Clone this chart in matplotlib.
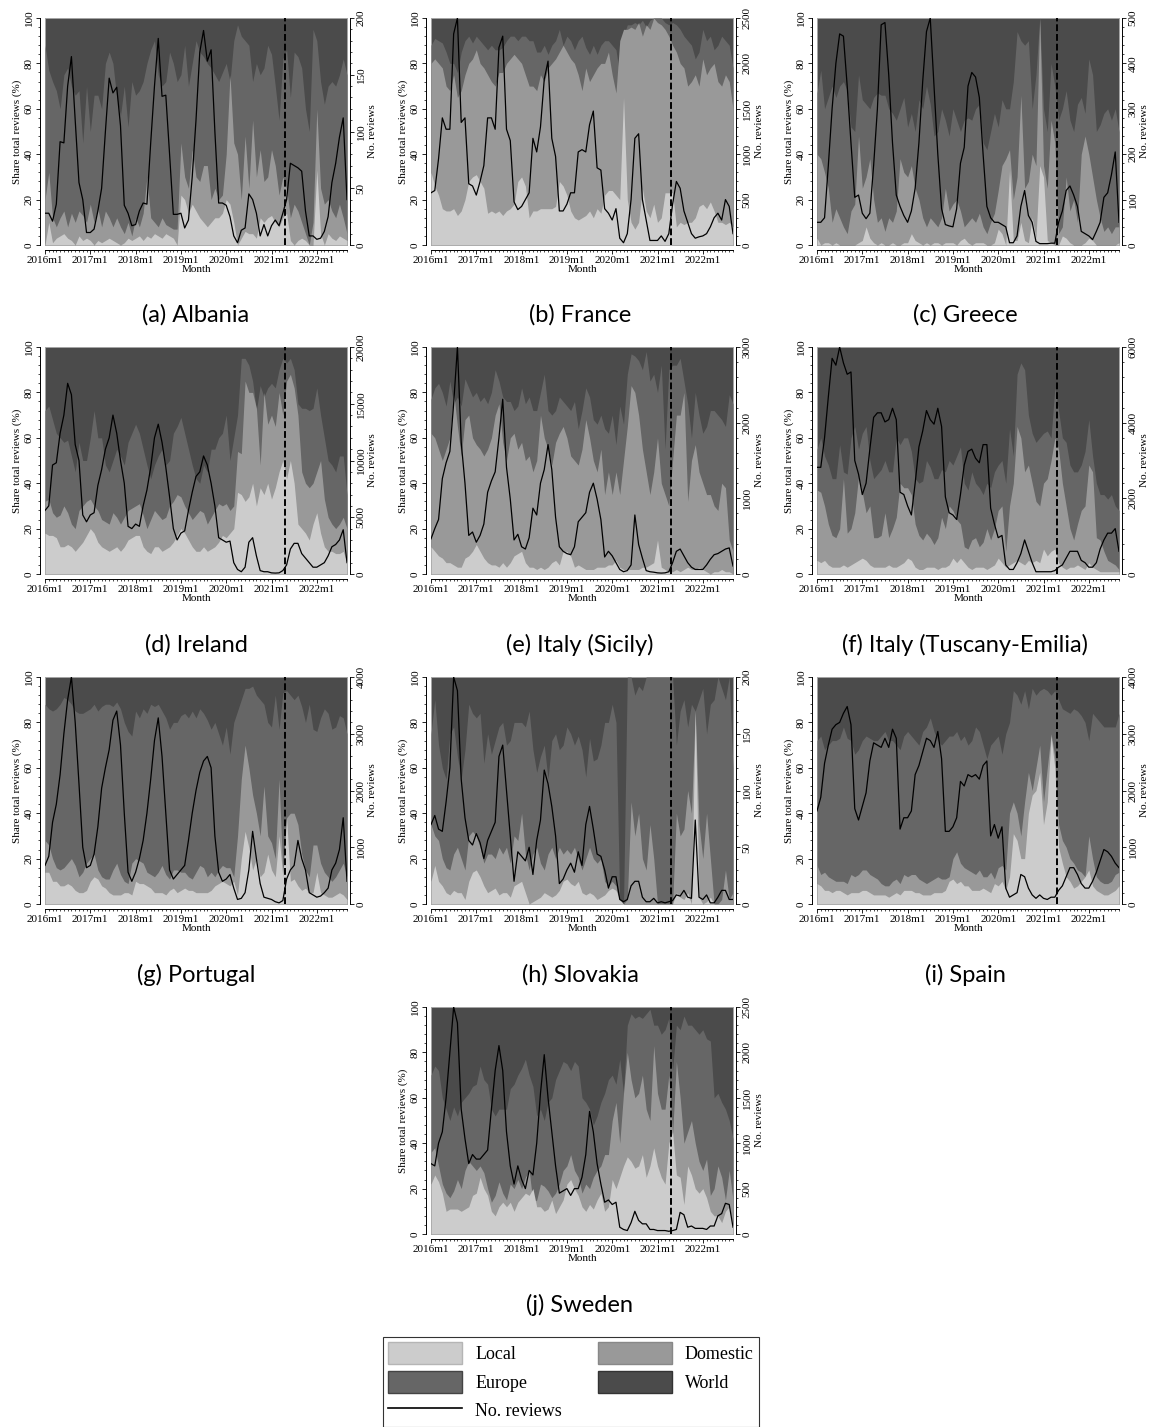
import numpy as np
import matplotlib
matplotlib.use("Agg")
import matplotlib.pyplot as plt
from matplotlib.patches import Patch
from matplotlib.lines import Line2D
from matplotlib.ticker import MultipleLocator

# monthly index, 2016m1 .. 2022m9
months = np.arange(81)
year_ticks = [0, 12, 24, 36, 48, 60, 72]
year_labels = ["2016m1", "2017m1", "2018m1", "2019m1", "2020m1", "2021m1", "2022m1"]
cutoff = 63.5

# cumulative shares (%): local, local+domestic, local+domestic+europe (world fills to 100)
alb_local = [0,10,1,3,4,5,3,2,0,4,2,3, 2,0,2,1,2,3,2,1,0,1,3,2, 3,4,2,4,3,5,4,3,5,4,3,0,
             22,20,14,18,15,12,10,8,10,12,12,14, 20,18,10,0,3,6,5,5,3,12,10,12,
             13,10,8,12,14,2,0,2,3,2,0,0, 33,5,0,5,3,2,4,3,2]
alb_dom = [20,32,12,8,12,15,8,14,10,15,13,10, 18,10,16,8,15,12,8,12,8,5,10,4, 12,8,14,30,12,10,8,12,9,8,7,7,
           45,30,25,42,30,28,35,35,20,25,20,22, 40,75,45,40,20,48,25,55,30,42,28,30,
           42,35,22,30,25,12,18,15,10,5,0,10, 60,25,18,20,15,12,18,12,5]
alb_eur = [88,77,72,68,60,75,78,70,66,68,45,70, 50,66,66,60,80,85,80,65,57,70,52,72, 66,68,72,80,86,90,75,70,72,85,80,72,
           75,88,70,80,90,85,83,80,78,75,72,76, 80,72,90,97,92,90,88,72,80,75,78,88,
           84,70,55,82,86,65,85,83,78,60,50,95, 90,72,62,70,72,70,75,82,75]
alb_reviews = [28,28,21,36,91,90,140,166,110,55,40,11, 11,14,30,50,100,147,134,139,105,35,28,17,
               18,30,37,36,90,140,182,131,132,80,27,27, 28,15,22,60,110,170,189,162,172,100,37,37,
               35,25,8,2,13,15,45,40,28,8,18,8, 17,22,17,28,40,72,70,68,65,30,8,8,
               5,6,12,25,55,72,95,112,40]

fra_local = [32,26,22,16,15,15,16,13,15,20,28,30, 31,28,25,14,15,14,15,13,15,16,18,28, 30,26,12,15,15,16,16,16,16,17,28,26,
             22,15,12,11,12,13,15,12,16,14,22,24, 24,22,20,65,20,10,7,10,25,15,12,18,
             10,12,23,23,23,8,10,9,10,10,12,17, 18,16,19,15,10,10,9,10,8]
fra_dom = [80,82,80,78,70,68,75,65,68,75,80,82, 86,80,78,75,72,70,76,76,80,82,84,82, 80,75,70,70,68,75,72,78,80,82,85,88,
           85,82,80,75,68,78,72,75,78,80,80,85, 75,67,90,95,95,96,95,98,92,97,95,100,
           98,97,95,92,88,85,80,78,70,72,75,70, 82,75,78,80,72,70,75,72,60]
fra_eur = [88,91,90,89,85,80,80,76,85,90,92,89, 92,90,88,86,88,86,86,87,90,92,92,90, 92,92,90,90,85,85,88,84,88,90,95,88,
           92,90,86,90,92,87,84,88,84,88,90,90, 88,86,75,92,97,97,98,97,99,96,99,100,
           100,100,98,97,98,97,95,92,90,88,82,85, 95,90,92,86,88,92,90,88,78]
fra_reviews = [575,600,950,1400,1275,1275,2325,2500,1350,1400,675,650,
               550,700,875,1400,1400,1275,2175,2300,1275,1150,475,390,
               425,500,575,1175,1025,1300,1825,2025,1175,975,375,375,
               450,575,575,1025,1050,1025,1325,1475,850,825,400,350,
               275,400,75,25,125,500,1175,1225,500,275,50,50,
               50,100,40,125,450,700,625,375,250,125,75,90,
               100,125,200,300,350,275,500,425,125]

gre_local = [3,0,1,1,0,1,0,0,0,0,0,1, 2,8,3,1,0,1,0,0,1,0,0,1, 1,5,2,1,0,1,0,1,1,0,1,1,
             1,0,2,3,1,0,1,1,1,0,0,1, 7,5,0,33,2,2,10,2,1,12,3,35,
             30,2,1,0,0,4,3,1,0,0,0,1, 3,2,0,0,0,0,0,0,1]
gre_dom = [40,38,32,25,10,16,12,8,5,15,18,48, 25,30,38,20,10,12,6,12,10,15,38,32, 30,35,25,20,12,8,12,10,8,12,25,15,
           18,20,15,8,10,12,10,14,8,5,10,14, 24,35,38,42,20,30,66,25,28,40,35,100,
           35,25,55,45,5,8,30,15,20,10,40,48, 40,30,20,12,6,8,5,8,8]
gre_eur = [67,77,60,65,70,65,70,72,68,52,50,75, 64,62,60,65,67,66,66,60,58,55,60,65, 52,58,50,64,60,70,62,48,50,60,55,48,
           60,55,50,55,56,55,60,62,45,42,50,58, 52,64,60,60,72,94,90,88,90,60,75,100,
           60,50,80,70,55,60,68,55,50,62,65,58, 82,75,50,53,58,60,55,60,50]
gre_reviews = [50,50,60,175,300,400,465,460,350,225,105,110,
               70,58,70,175,300,485,490,375,225,110,85,65,
               50,75,125,225,360,470,500,350,200,80,45,42,
               40,80,180,215,350,380,370,325,200,85,60,50,
               50,45,40,5,5,20,85,120,65,50,8,3,
               3,3,4,4,50,75,120,130,110,85,30,25,
               20,12,30,50,105,115,155,205,50]

ire_local = [18,17,17,16,12,12,13,12,10,12,14,17, 20,18,14,12,11,10,11,12,10,12,15,16, 17,17,12,10,9,12,12,10,11,12,14,17,
             20,18,15,12,10,10,12,10,11,12,14,17, 16,18,20,36,35,32,34,40,30,38,35,40,
             33,38,45,50,42,50,40,22,20,18,15,22, 27,18,12,10,10,9,9,10,5]
ire_dom = [32,33,27,25,26,30,27,22,20,28,30,32, 33,30,28,24,23,22,27,25,22,25,28,29, 30,31,26,20,24,28,26,24,25,30,32,35,
           34,30,27,24,26,28,27,22,25,28,31,30, 31,28,30,54,53,85,80,80,73,48,80,66,
           70,65,80,70,85,88,82,70,45,40,38,40, 45,50,33,25,22,20,22,25,20]
ire_eur = [72,74,68,62,60,58,59,52,45,58,50,50, 60,72,60,60,48,45,50,55,52,48,58,62, 66,62,55,48,42,48,52,55,48,50,62,65,
           69,62,55,48,42,40,48,45,55,55,60,62, 70,50,60,70,95,95,92,85,72,83,78,82,
           84,82,90,95,93,95,90,75,73,73,72,73, 82,70,60,50,48,45,52,52,35]
ire_reviews = [5600,6000,9600,9800,12400,14000,16800,15800,11400,10000,5200,4600,
               5200,5400,7800,9200,11000,12000,14000,12400,10000,8000,4200,4000,
               4400,4200,6000,7400,9400,12000,13200,11600,9400,6800,4000,3000,
               3600,3800,5600,7200,8600,9000,10400,9600,8000,6000,3200,3000,
               2800,2900,1000,400,200,600,2800,3200,1600,300,200,200,
               100,80,100,300,800,2200,2700,2700,1800,1400,1000,600,
               600,800,1000,1600,2400,2600,3000,3900,1000]

sic_local = [12,10,8,7,5,5,4,3,3,7,8,10, 13,10,7,5,4,4,3,5,3,5,8,9, 10,5,3,3,2,3,2,3,5,6,4,10,
             10,8,3,4,3,2,2,2,3,3,3,4, 4,6,3,2,2,2,2,2,3,3,4,5,
             15,3,2,1,1,2,1,2,3,2,2,3, 2,1,0,1,1,2,1,1,0]
sic_dom = [62,60,55,50,55,60,80,65,52,68,70,60, 57,55,52,55,60,70,75,58,50,60,62,55, 58,50,52,45,50,70,60,55,48,58,62,65,
           60,52,50,48,55,68,60,50,45,55,35,45, 35,45,35,50,65,83,80,70,55,45,35,45,
           60,40,35,30,50,70,70,80,32,50,57,45, 40,35,35,30,28,40,38,15,10]
sic_eur = [77,82,84,80,74,85,75,78,74,86,82,78, 80,76,78,75,80,90,85,78,76,76,72,74, 82,75,78,72,72,80,88,72,70,72,78,76,
           74,72,76,64,72,82,78,68,66,70,64,62, 70,57,74,66,88,97,96,94,90,98,85,88,
           80,92,55,90,92,92,95,85,75,60,80,70, 62,65,72,72,70,68,65,79,75]
sic_reviews = [465,600,720,1260,1470,1620,2250,3000,1740,1200,510,555,
               420,510,660,1080,1230,1350,1800,2310,1410,990,450,525,
               360,330,480,870,780,1200,1380,1710,1380,750,360,300,
               270,255,360,690,750,810,1080,1200,990,720,225,300,
               240,150,60,30,45,120,780,390,210,45,30,24,
               15,12,15,30,150,300,330,240,150,90,60,60,
               60,120,195,255,270,300,330,345,105]

tus_local = [6,5,6,4,3,3,3,4,3,4,5,6, 7,6,4,3,3,3,3,4,3,3,4,5, 7,6,3,2,2,3,3,3,2,3,3,4,
             7,5,7,5,3,2,3,3,3,2,3,4, 7,5,3,4,5,6,5,4,6,5,6,5,
             11,8,10,11,5,3,2,3,3,4,3,2, 5,3,2,1,1,1,1,1,1]
tus_dom = [37,36,30,22,17,16,20,42,18,20,27,43, 36,27,30,16,16,17,27,16,20,25,40,38, 38,35,22,17,15,18,16,13,16,25,20,30,
           28,24,22,12,11,15,16,12,14,20,15,20, 28,30,10,30,40,65,60,45,48,40,32,30,
           40,42,50,60,55,40,30,20,15,22,28,30, 48,45,16,15,10,6,5,4,2]
tus_eur = [55,60,52,48,42,42,57,45,44,60,65,55, 62,65,50,42,44,46,50,45,45,60,57,60, 60,54,42,40,41,50,47,42,42,46,45,50,
           48,52,56,40,37,45,40,38,35,40,38,45, 48,50,40,64,52,88,93,90,70,62,58,60,
           62,63,60,82,72,60,58,48,45,45,48,54, 68,52,40,35,35,33,35,30,28]
tus_reviews = [2820,2820,3600,4680,5700,5520,6000,5580,5280,5340,3000,2640,
               2100,2400,3300,4140,4260,4260,4020,4080,4380,4080,2160,2100,
               1800,1560,2400,3360,3780,4320,4080,3960,4380,3900,2040,1620,
               1560,1440,2100,2880,3240,3300,3060,2940,3420,3420,1740,1320,
               960,1020,240,120,120,300,540,900,600,300,60,60,
               60,60,60,90,180,240,420,600,600,600,360,300,
               180,180,300,660,900,1080,1080,1200,600]

por_local = [14,14,10,10,8,8,9,8,6,5,5,6, 10,12,11,8,7,5,4,4,4,5,5,4, 10,9,9,8,7,5,5,5,4,6,7,5,
             6,7,6,6,5,5,5,5,6,8,9,10, 9,8,10,4,20,32,25,15,20,12,14,22,
             15,12,30,12,38,10,11,8,6,7,5,5, 14,5,4,3,3,4,5,4,2]
por_dom = [28,26,20,16,15,16,18,20,17,12,14,18, 20,22,15,12,11,11,15,18,13,10,9,18, 20,19,18,14,13,12,14,17,13,11,15,15,
           14,14,12,11,14,17,16,12,14,12,15,17, 16,16,12,30,55,70,60,48,40,30,52,30,
           27,20,55,14,38,40,40,35,22,15,12,26, 26,18,14,12,10,12,15,18,12]
por_eur = [88,86,85,86,88,91,90,88,85,84,84,85, 86,88,85,87,88,88,87,89,86,80,76,74, 85,82,86,84,88,87,88,85,82,77,80,80,
           83,84,82,85,82,86,84,81,77,80,75,70, 78,66,80,85,90,95,95,96,92,90,88,80,
           78,92,77,93,94,92,90,92,87,80,88,77, 76,82,86,84,77,78,83,82,75]
por_reviews = [680,840,1440,1760,2280,3000,3600,4000,3200,2120,1000,640,
               680,880,1360,2040,2400,2720,3240,3400,2800,1600,560,400,
               560,800,1120,1600,2200,2880,3280,2600,1600,600,440,520,
               600,680,1120,1600,2000,2320,2520,2600,2400,1200,560,400,
               440,520,280,80,100,200,600,1280,800,360,120,100,
               80,40,20,60,440,600,680,1120,800,600,200,160,
               120,140,200,280,600,720,960,1520,400]

svk_local = [10,17,10,8,5,4,6,5,5,2,10,14, 15,12,8,5,6,7,4,5,5,3,8,9, 10,5,0,1,2,3,5,4,3,4,6,10,
             11,9,8,10,5,4,5,4,2,3,4,6, 7,6,2,0,0,0,0,0,0,0,0,0,
             0,0,0,0,0,5,3,2,5,0,85,3, 0,1,3,0,0,0,0,0,0]
svk_dom = [35,30,28,20,16,15,22,25,20,15,30,32, 30,25,18,22,22,20,25,22,25,18,30,28, 40,22,15,22,25,18,15,22,25,20,25,22,
           24,22,25,20,15,20,25,20,18,20,10,8, 10,8,0,0,2,45,30,40,20,15,35,20,
           0,0,0,0,0,40,30,33,50,40,85,35, 20,40,20,0,0,2,15,2,5]
svk_eur = [75,90,70,60,55,75,78,65,55,68,88,84, 82,84,62,75,66,72,78,80,70,72,80,80, 80,78,85,68,58,65,70,55,72,75,68,70,
           78,75,70,74,68,56,73,63,64,70,80,80, 88,80,0,0,100,100,92,96,94,100,100,100,
           100,100,100,100,100,70,85,90,78,88,85,90, 95,75,88,90,100,95,90,100,60]
svk_reviews = [70,78,66,64,90,120,200,188,110,76,56,52,
               62,54,40,56,64,72,130,140,100,60,20,46,
               42,38,50,26,56,74,118,106,86,60,18,22,
               30,36,28,46,34,70,86,66,44,42,30,14,
               24,24,4,2,4,16,20,20,6,2,2,5,
               1,2,1,2,3,8,7,12,6,5,74,6,
               4,8,1,1,6,12,12,4,4]

spa_local = [9,8,6,6,5,6,6,5,4,5,5,5, 6,6,5,4,4,4,4,3,4,5,4,6, 6,6,5,5,4,4,4,5,5,5,6,10,
             11,9,10,8,8,6,6,6,7,6,5,9, 8,10,6,12,31,28,20,20,40,48,50,58,
             35,45,74,60,25,18,12,10,7,8,10,12, 15,8,6,5,4,4,5,6,8]
spa_dom = [17,13,14,12,11,10,10,10,9,13,12,13, 15,15,13,12,11,9,8,8,10,11,9,13, 12,13,13,11,10,9,10,11,12,11,11,12,
           20,23,18,16,15,14,13,15,12,12,14,11, 16,17,15,40,45,40,30,45,58,50,60,70,
           45,60,75,65,35,28,25,20,18,15,14,12, 30,20,12,10,9,9,10,13,14]
spa_eur = [72,74,68,70,72,72,73,78,73,72,66,68, 72,74,73,72,72,74,76,72,72,70,68,74, 76,74,72,70,76,78,82,76,72,70,72,74,
           74,76,72,74,70,72,78,76,70,64,70,72, 74,66,75,80,94,92,88,94,86,95,92,94,
           95,94,92,94,90,86,85,84,86,85,83,80, 72,84,82,80,78,78,78,78,84]
spa_reviews = [1640,1880,2480,2800,3080,3160,3200,3360,3480,3160,1680,1480,
               1720,1960,2520,2840,2800,2760,2920,2760,3080,2920,1320,1520,
               1520,1640,2280,2440,2680,2920,2880,2760,3040,2560,1280,1280,
               1360,1520,2160,2080,2280,2240,2280,2200,2440,2520,1200,1400,
               1160,1360,280,120,160,200,520,480,280,160,100,160,
               100,80,120,120,240,320,480,640,640,520,360,280,
               280,400,560,760,960,920,840,720,640]

swe_local = [22,26,23,18,10,11,11,11,10,11,12,17, 18,25,20,17,10,8,12,14,12,14,10,14, 16,18,17,20,12,12,10,11,15,9,12,15,
             22,24,20,17,12,10,13,11,15,18,10,12, 24,20,25,30,34,32,29,30,35,25,30,38,
             30,25,22,40,45,26,25,13,30,26,20,18, 20,16,10,8,8,5,10,12,3]
swe_dom = [36,38,30,22,18,16,19,24,20,28,32,30, 28,30,27,20,14,17,23,18,15,22,20,24, 20,25,28,14,15,22,21,19,16,18,22,28,
           30,35,28,25,18,22,20,25,28,30,35,35, 50,58,40,62,80,68,60,62,70,55,50,83,
           62,55,55,70,44,76,60,40,45,50,40,32, 28,33,17,20,30,25,15,28,15]
swe_eur = [70,74,72,60,55,50,56,52,58,60,62,65, 66,74,68,66,55,52,55,55,55,64,66,70, 73,77,70,65,52,55,50,58,60,68,72,76,
           75,72,76,74,60,58,55,48,52,58,62,68, 70,66,77,62,92,97,95,96,95,97,99,92,
           92,88,90,95,72,92,90,96,92,92,90,88, 90,86,85,60,62,58,55,50,42]
swe_reviews = [775,750,1000,1125,1500,2000,2500,2325,1375,1050,775,875,
               825,825,875,925,1375,1800,2075,1800,1125,750,550,750,
               600,500,700,650,1000,1550,1975,1500,1125,750,450,475,
               500,425,500,500,625,875,1350,1125,775,550,350,375,
               325,350,75,50,38,125,250,150,112,112,50,50,
               38,38,38,30,38,50,238,212,75,88,62,62,
               62,50,88,88,200,225,338,325,75]

captions = ["(a) Albania", "(b) France", "(c) Greece", "(d) Ireland", "(e) Italy (Sicily)",
            "(f) Italy (Tuscany-Emilia)", "(g) Portugal", "(h) Slovakia", "(i) Spain", "(j) Sweden"]
review_max = [200, 2500, 500, 20000, 3000, 6000, 4000, 200, 4000, 2500]
review_step = [50, 500, 100, 5000, 1000, 2000, 1000, 50, 1000, 500]

panels = [
    (alb_local, alb_dom, alb_eur, alb_reviews),
    (fra_local, fra_dom, fra_eur, fra_reviews),
    (gre_local, gre_dom, gre_eur, gre_reviews),
    (ire_local, ire_dom, ire_eur, ire_reviews),
    (sic_local, sic_dom, sic_eur, sic_reviews),
    (tus_local, tus_dom, tus_eur, tus_reviews),
    (por_local, por_dom, por_eur, por_reviews),
    (svk_local, svk_dom, svk_eur, svk_reviews),
    (spa_local, spa_dom, spa_eur, spa_reviews),
    (swe_local, swe_dom, swe_eur, swe_reviews),
]

c_local = "#cccccc"
c_dom = "#999999"
c_eur = "#666666"
c_world = "#4b4b4b"
serif = "Liberation Serif"
fs = 8

W, H = 1151, 1427
fig = plt.figure(figsize=(W / 100, H / 100), dpi=100)

col_x = [45, 431, 817]
row_y = [18, 347, 677, 1007]
cap_x = [196, 580, 965]
cap_y = [315, 645, 975, 1305]
pw, ph = 302, 227

for k, (loc, dom, eur, rev) in enumerate(panels):
    r, c = divmod(k, 3)
    if k == 9:
        c = 1
    x0, y0 = col_x[c], row_y[r]
    ax = fig.add_axes([x0 / W, 1 - (y0 + ph) / H, pw / W, ph / H])

    ax.fill_between(months, 0, 100, color=c_world, edgecolor="#a5a5a5", lw=0.7)
    ax.fill_between(months, 0, eur, color=c_eur, lw=0)
    ax.fill_between(months, 0, dom, color=c_dom, lw=0)
    ax.fill_between(months, 0, loc, color=c_local, lw=0)
    ax.set_xlim(0, 80)
    ax.set_ylim(0, 100)

    for s in ["top", "right"]:
        ax.spines[s].set_visible(False)
    ax.spines["left"].set_position(("outward", 3.5))
    ax.spines["bottom"].set_position(("outward", 3.5))
    for s in ["left", "bottom"]:
        ax.spines[s].set_linewidth(0.7)

    ax.set_xticks(year_ticks)
    ax.set_xticklabels(year_labels, fontsize=fs, family=serif)
    ax.xaxis.set_minor_locator(MultipleLocator(1))
    ax.set_yticks([0, 20, 40, 60, 80, 100])
    ax.set_yticklabels(["0", "20", "40", "60", "80", "100"], rotation=90, va="center",
                       fontsize=fs, family=serif)
    ax.yaxis.set_minor_locator(MultipleLocator(4))
    ax.tick_params(which="major", length=3, width=0.6, pad=1.5)
    ax.tick_params(which="minor", length=1.5, width=0.5)
    ax.set_xlabel("Month", fontsize=fs, family=serif, labelpad=0)
    ax.set_ylabel("Share total reviews (%)", fontsize=fs, family=serif, labelpad=2)

    ax2 = ax.twinx()
    ax2.plot(months, rev, color="black", lw=0.9)
    ax2.axvline(cutoff, color="black", lw=1.4, ls=(0, (3.5, 1.5)))
    ax2.set_ylim(0, review_max[k])
    ax2.set_xlim(0, 80)
    for s in ["top", "left", "bottom"]:
        ax2.spines[s].set_visible(False)
    ax2.spines["right"].set_position(("outward", 2.5))
    ax2.spines["right"].set_linewidth(0.7)
    rt = np.arange(0, review_max[k] + 1, review_step[k])
    ax2.set_yticks(rt)
    ax2.set_yticklabels([str(v) for v in rt], rotation=90, va="center",
                        fontsize=fs, family=serif)
    ax2.yaxis.set_minor_locator(MultipleLocator(review_step[k] / 5))
    ax2.tick_params(which="major", length=3, width=0.6, pad=1.5)
    ax2.tick_params(which="minor", length=1.5, width=0.5)
    ax2.set_ylabel("No. reviews", fontsize=fs, family=serif, labelpad=2)

    fig.text(cap_x[c] / W, 1 - cap_y[r] / H, captions[k], ha="center", va="center",
             fontsize=17, family="Lato")

handles = [Patch(facecolor=c_local, edgecolor="#b5b5b5"),
           Patch(facecolor=c_eur, edgecolor="#444444"),
           Line2D([], [], color="black", lw=1.2),
           Patch(facecolor=c_dom, edgecolor="#888888"),
           Patch(facecolor=c_world, edgecolor="#333333")]
labels = ["Local", "Europe", "No. reviews", "Domestic", "World"]
leg = fig.legend(handles, labels, ncol=2, loc="upper center",
                 bbox_to_anchor=(571 / W, 1 - 1328 / H), frameon=True, fancybox=False,
                 prop={"family": serif, "size": 13}, handlelength=4.1, handleheight=1.45,
                 columnspacing=2.0, borderpad=0.3, labelspacing=0.4, handletextpad=0.7)
leg.get_frame().set_edgecolor("black")
leg.get_frame().set_linewidth(0.8)

fig.savefig("out.png", dpi=100)
